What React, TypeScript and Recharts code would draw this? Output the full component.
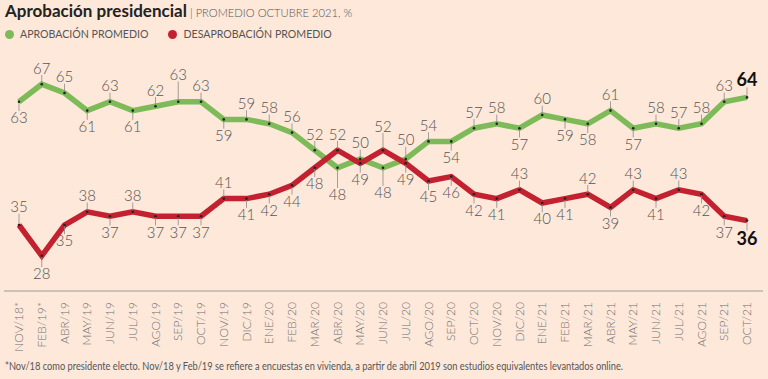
import React from 'react';
import { LineChart, Line, XAxis, YAxis, LabelList } from 'recharts';

const months = [
  'NOV/18*', 'FEB/19*', 'ABR/19', 'MAY/19', 'JUN/19', 'JUL/19', 'AGO/19', 'SEP/19', 'OCT/19',
  'NOV/19', 'DIC/19', 'ENE/20', 'FEB/20', 'MAR/20', 'ABR/20', 'MAY/20', 'JUN/20', 'JUL/20',
  'AGO/20', 'SEP/20', 'OCT/20', 'NOV/20', 'DIC/20', 'ENE/21', 'FEB/21', 'MAR/21', 'ABR/21',
  'MAY/21', 'JUN/21', 'JUL/21', 'AGO/21', 'SEP/21', 'OCT/21',
];

const approval = [
  63, 67, 65, 61, 63, 61, 62, 63, 63, 59, 59, 58, 56, 52, 48, 50, 48, 50, 54, 54, 57, 58, 57,
  60, 59, 58, 61, 57, 58, 57, 58, 63, 64,
];

const disapproval = [
  35, 28, 35, 38, 37, 38, 37, 37, 37, 41, 41, 42, 44, 48, 52, 49, 52, 49, 45, 46, 42, 41, 43,
  40, 41, 42, 39, 43, 41, 43, 42, 37, 36,
];

// label placement: u = above the point, d = below
const approvalLabelSide = [
  'd', 'u', 'u', 'd', 'u', 'd', 'u', 'u', 'u', 'd', 'u', 'u', 'u', 'u', 'd', 'u', 'd', 'u', 'u',
  'd', 'u', 'u', 'd', 'u', 'd', 'd', 'u', 'd', 'u', 'u', 'u', 'u', 'u',
];
const disapprovalLabelSide = [
  'u', 'd', 'd', 'u', 'd', 'u', 'd', 'd', 'd', 'u', 'd', 'd', 'd', 'd', 'u', 'd', 'u', 'd', 'd',
  'd', 'd', 'd', 'u', 'd', 'd', 'u', 'd', 'u', 'd', 'u', 'd', 'd', 'd',
];
const approvalExtraGap: Record<number, number> = { 7: 11, 14: 11, 16: 9, 17: 3 };
const disapprovalExtraGap: Record<number, number> = { 0: 2, 1: 2, 16: 8 };

const GREEN = '#7dba58';
const RED = '#c32130';
const BG = '#fde8da';
const GRAY = '#555555';
const FONT = 'Lato, "Noto Sans", sans-serif';

const data = months.map((m, i) => ({ month: m, approval: approval[i], disapproval: disapproval[i] }));

const makeLabel = (sides: string[], extra: Record<number, number>) => (props: any) => {
  const { x, y, value, index } = props;
  if (x == null || y == null) return null;
  const last = index === months.length - 1;
  const up = sides[index] === 'u';
  const gap = 16 + (extra[index] || 0) + (last ? 2 : 0);
  const fs = last ? 18 : 15;
  const half = last ? 6.5 : 5.3;
  const cy = up ? y - gap : y + gap;
  const lineEnd = up ? cy + half + 1.5 : cy - half - 1.5;
  return (
    <g>
      <line x1={x} y1={y} x2={x} y2={lineEnd} stroke="#8a8a8a" strokeWidth={0.8} />
      <circle cx={x} cy={y} r={1.3} fill="#222" />
      <text
        x={x}
        y={cy + half}
        textAnchor="middle"
        fontSize={fs}
        fontFamily={FONT}
        fontWeight={last ? 700 : 300}
        fill={last ? '#111' : GRAY}
      >
        {value}
      </text>
    </g>
  );
};

const MonthTick = (props: any) => {
  const { x, payload } = props;
  return (
    <text
      x={0}
      y={0}
      dy="0.35em"
      textAnchor="end"
      transform={`translate(${x},302) rotate(-90)`}
      fontSize={12}
      fontFamily={FONT}
      fontWeight={300}
      fill="#6e6e6e"
    >
      {payload.value}
    </text>
  );
};

export default function App() {
  return (
    <div style={{ position: 'absolute', left: 0, top: 0, width: 768, height: 379, background: BG, overflow: 'hidden', fontFamily: FONT }}>
      <div style={{ position: 'absolute', left: 5, top: 1, whiteSpace: 'nowrap', lineHeight: '20px' }}>
        <span style={{ fontSize: 17, fontWeight: 700, color: '#222' }}>Aprobación presidencial</span>
        <span style={{ fontSize: 11.2, color: GRAY, fontWeight: 300 }}> | PROMEDIO OCTUBRE 2021, %</span>
      </div>
      <div style={{ position: 'absolute', left: 5, top: 27, whiteSpace: 'nowrap', fontSize: 10.6, color: GRAY, lineHeight: '14px', display: 'flex', alignItems: 'center' }}>
        <span style={{ display: 'inline-block', width: 9, height: 9, borderRadius: 5, background: GREEN, marginRight: 6 }} />
        <span style={{ marginRight: 20 }}>APROBACIÓN PROMEDIO</span>
        <span style={{ display: 'inline-block', width: 9, height: 9, borderRadius: 5, background: RED, marginRight: 6 }} />
        <span>DESAPROBACIÓN PROMEDIO</span>
      </div>
      <div style={{ position: 'absolute', left: 0, top: 0 }}>
        <LineChart width={768} height={379} data={data} margin={{ top: 71, right: 5, left: 4, bottom: 0 }}>
          <XAxis
            dataKey="month"
            height={88}
            interval={0}
            padding={{ left: 15, right: 16 }}
            tick={<MonthTick />}
            tickLine={false}
            axisLine={{ stroke: '#a09a96', strokeWidth: 1 }}
          />
          <YAxis hide domain={[20, 70]} />
          <Line
            dataKey="approval"
            stroke={GREEN}
            strokeWidth={5.5}
            dot={false}
            isAnimationActive={false}
            strokeLinejoin="miter"
          >
            <LabelList dataKey="approval" content={makeLabel(approvalLabelSide, approvalExtraGap)} />
          </Line>
          <Line
            dataKey="disapproval"
            stroke={RED}
            strokeWidth={5.5}
            dot={false}
            isAnimationActive={false}
            strokeLinejoin="miter"
          >
            <LabelList dataKey="disapproval" content={makeLabel(disapprovalLabelSide, disapprovalExtraGap)} />
          </Line>
        </LineChart>
      </div>
      <svg style={{ position: 'absolute', left: 0, top: 356 }} width={768} height={20}>
        <text x={5} y={14} fontSize={11} fontFamily={FONT} fill={GRAY} textLength={618} lengthAdjust="spacingAndGlyphs">
          *Nov/18 como presidente electo. Nov/18 y Feb/19 se refiere a encuestas en vivienda, a partir de abril 2019 son estudios equivalentes levantados online.
        </text>
      </svg>
    </div>
  );
}
